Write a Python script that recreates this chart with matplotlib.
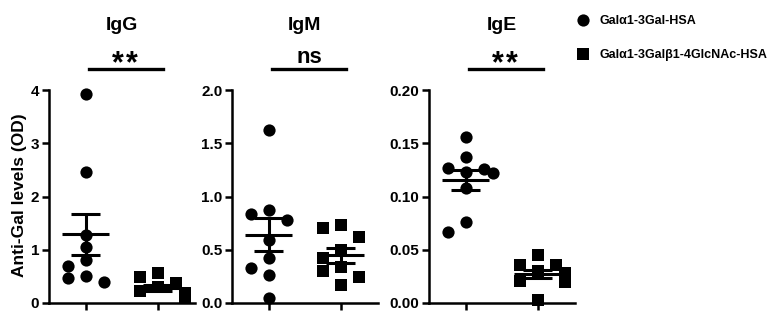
import matplotlib

matplotlib.use("Agg")
import matplotlib.pyplot as plt
from matplotlib.lines import Line2D
import numpy as np

plt.rcParams["font.family"] = ["Liberation Sans", "DejaVu Sans"]
plt.rcParams["font.weight"] = "bold"

# 数据（从图上读出来的）
panels = ["IgG", "IgM", "IgE"]
signif = ["**", "ns", "**"]
groups = ["Galα1-3Gal-HSA", "Galα1-3Galβ1-4GlcNAc-HSA"]

igg_gal = [3.92, 2.46, 1.28, 1.05, 0.81, 0.70, 0.51, 0.47, 0.40]
igg_glc = [0.56, 0.48, 0.38, 0.30, 0.22, 0.18, 0.15, 0.12, 0.12]
igm_gal = [1.62, 0.87, 0.84, 0.78, 0.59, 0.42, 0.33, 0.26, 0.05]
igm_glc = [0.73, 0.70, 0.62, 0.50, 0.42, 0.34, 0.30, 0.24, 0.17]
ige_gal = [0.156, 0.137, 0.127, 0.126, 0.123, 0.122, 0.108, 0.076, 0.067]
ige_glc = [0.045, 0.036, 0.036, 0.030, 0.028, 0.028, 0.021, 0.020, 0.003]

data = [(igg_gal, igg_glc), (igm_gal, igm_glc), (ige_gal, ige_glc)]
ylims = [4, 2.0, 0.20]
yticks = [np.arange(0, 4.01, 1), np.arange(0, 2.01, 0.5), np.arange(0, 0.201, 0.05)]
yfmt = ["{:.0f}", "{:.1f}", "{:.2f}"]

W, H = 772, 322
fig = plt.figure(figsize=(W / 100, H / 100), dpi=100)

ax_left = [49, 232, 429]  # 像素
ax_w, ax_bot, ax_top = 146, 303, 90
MS = 8.8  # marker size (pt)


def swarm(vals, ymax, px_h=213, px_per_x=72, d=12):
    # 简单的贪心散点排布，避免点重叠
    placed = []
    offs = []
    for v in vals:
        ypx = v / ymax * px_h
        for c in [0, -18, 18, -9, 9, -27, 27]:
            ok = all(abs(c - px) >= d or abs(ypx - py) >= d for px, py in placed)
            if ok:
                break
        placed.append((c, ypx))
        offs.append(c / px_per_x)
    return np.array(offs)


for i, name in enumerate(panels):
    ax = fig.add_axes([ax_left[i] / W, (H - ax_bot) / H, ax_w / W, (ax_bot - ax_top) / H])
    ymax = ylims[i]
    for j, (vals, mk) in enumerate(zip(data[i], ["o", "s"])):
        vals = np.array(vals)
        xc = j + 1
        ax.plot(xc + swarm(vals, ymax), vals, mk, color="black", ms=MS,
                mew=0, clip_on=False, zorder=3)
        m = vals.mean()
        sem = vals.std(ddof=1) / np.sqrt(len(vals))
        ax.hlines(m, xc - 0.33, xc + 0.33, color="black", lw=2.2, zorder=4)
        ax.hlines([m - sem, m + sem], xc - 0.2, xc + 0.2, color="black", lw=2.2, zorder=4)
        ax.vlines(xc, m - sem, m + sem, color="black", lw=2.2, zorder=4)

    ax.set_xlim(0.49, 2.52)
    ax.set_ylim(0, ymax)
    ax.set_xticks([1, 2])
    ax.set_xticklabels([])
    ax.set_yticks(yticks[i])
    ax.set_yticklabels([yfmt[i].format(t) for t in yticks[i]], fontsize=11, fontweight="bold")
    for s in ["top", "right"]:
        ax.spines[s].set_visible(False)
    for s in ["left", "bottom"]:
        ax.spines[s].set_linewidth(1.8)
    ax.tick_params(width=1.8, length=5, pad=2)

    # 标题和显著性
    tr = ax.get_xaxis_transform()
    ax.text(1.5, 1.303, name, transform=tr, ha="center", va="center",
            fontsize=14, fontweight="bold")
    ax.plot([1.05, 2.08], [1.099, 1.099], color="black", lw=2.4,
            transform=tr, clip_on=False)
    if signif[i] == "ns":
        ax.text(1.56, 1.127, "ns", transform=tr, ha="center", va="baseline",
                fontsize=16, fontweight="bold")
    else:
        # 两个星号分开画，间距和原图一致
        for dx in [-0.097, 0.097]:
            ax.text(1.55 + dx, 1.085, "*", transform=tr, ha="center",
                    va="baseline", fontsize=22, fontweight="bold")

fig.text(20 / W, 1 - 195 / H, "Anti-Gal levels (OD)", rotation=90, ha="center",
         va="center", fontsize=12.5, fontweight="bold")

handles = [Line2D([], [], marker="o", ls="", color="black", ms=MS, mew=0),
           Line2D([], [], marker="s", ls="", color="black", ms=MS, mew=0)]
fig.legend(handles, groups, loc="upper left", bbox_to_anchor=(565 / W, 1 - 4 / H),
           frameon=False, handlelength=1.0, handletextpad=0.9, labelspacing=1.75,
           prop={"size": 9, "weight": "bold"})

plt.savefig("out.png", dpi=100)
plt.close()
